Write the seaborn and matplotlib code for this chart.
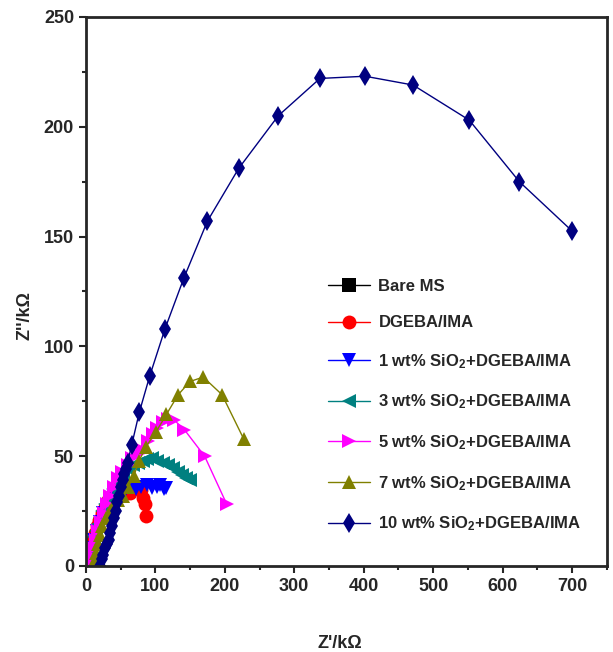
import numpy as np
import pandas as pd
import seaborn as sns
from matplotlib import pyplot as plt
from matplotlib.ticker import MultipleLocator

# Nyquist data, Z' and Z'' in kOhm
labels = ["Bare MS", "DGEBA/IMA",
          "1 wt% SiO$_2$+DGEBA/IMA", "3 wt% SiO$_2$+DGEBA/IMA",
          "5 wt% SiO$_2$+DGEBA/IMA", "7 wt% SiO$_2$+DGEBA/IMA",
          "10 wt% SiO$_2$+DGEBA/IMA"]

bare_x = [1, 1.5, 2, 2.5, 3, 3.5, 4, 4.5, 5]
bare_y = [0.2, 0.6, 1.0, 1.4, 1.8, 2.1, 2.4, 2.6, 2.8]

dgeba_x = [3, 4, 6, 8, 10, 13, 16, 19, 23, 27, 32, 38, 45, 52, 58, 63, 68, 73, 78, 80, 83, 85, 86]
dgeba_y = [1, 3, 6, 9, 12, 15, 18, 21, 24, 27, 30, 32, 33, 34, 34, 33, 35, 36, 36, 34.5, 31, 28, 22.6]

s1_x = [4, 6, 9, 12, 16, 20, 25, 30, 36, 42, 50, 58, 65, 72, 80, 88, 95, 102, 107, 112, 116]
s1_y = [1, 4, 8, 12, 16, 20, 24, 27, 30, 32, 34, 35, 36, 35, 36, 37, 35.5, 36, 37, 35, 35.5]

s3_x = [5, 6, 8, 10, 12, 15, 18, 21, 24, 28, 33, 39, 46, 53, 60, 68, 75, 82, 88, 95,
        103, 111, 118, 125, 132, 138, 144, 150]
s3_y = [1, 4, 7, 10, 13, 16, 19, 22, 25, 28, 31, 35, 38, 41, 44, 46, 47, 48, 48.5, 49,
        48, 47, 46, 44.5, 43, 41.5, 40, 39]

s5_x = [8, 10, 12, 15, 18, 22, 26, 30, 35, 40, 46, 52, 60, 67, 75, 82, 89, 96, 103,
        111, 119, 127, 142, 171, 203]
s5_y = [1, 4, 8, 12, 16, 20, 24, 28, 32, 36, 40, 43, 46, 49, 51, 53, 57, 60, 63,
        65.5, 67, 66.5, 62, 50, 28]

s7_x = [12, 14, 17, 20, 24, 29, 35, 41, 47, 53, 61, 69, 77, 86, 101, 116, 133, 150, 169, 196, 227]
s7_y = [2, 6, 10, 14, 18, 22, 25, 28, 30, 32, 36, 41, 48, 54, 61, 69, 78, 84, 86, 78, 58]

s10_x = [20, 23, 25, 28, 30, 33, 35, 38, 40, 43, 45, 48, 50, 53, 55, 58, 60, 66, 77, 92,
         114, 141, 175, 220, 277, 337, 402, 471, 552, 624, 700]
s10_y = [0, 3, 5, 8, 10, 12, 15, 18, 22, 25, 29, 32, 36, 39, 42, 44, 47, 55, 70, 86.5,
         108, 131, 157, 181, 205, 222, 223, 219, 203, 175, 152.5]

colors = ["#000000", "#FF0000", "#0000FF", "#008080", "#FF00FF", "#808000", "#000080"]
markers = ["s", "o", "v", "<", ">", "^", "d"]

xs = [bare_x, dgeba_x, s1_x, s3_x, s5_x, s7_x, s10_x]
ys = [bare_y, dgeba_y, s1_y, s3_y, s5_y, s7_y, s10_y]

df = pd.concat([pd.DataFrame({"zr": x, "zi": y, "sample": lab})
                for x, y, lab in zip(xs, ys, labels)], ignore_index=True)

sns.set_style("ticks")
plt.rcParams["font.family"] = ["Liberation Sans", "DejaVu Sans"]
plt.rcParams["font.weight"] = "bold"
plt.rcParams["mathtext.fontset"] = "custom"
plt.rcParams["mathtext.rm"] = "Liberation Sans:bold"
plt.rcParams["mathtext.bf"] = "Liberation Sans:bold"
plt.rcParams["mathtext.default"] = "bf"

fig = plt.figure(figsize=(6.13, 6.52), dpi=100)
ax = fig.add_axes([0.140, 0.132, 0.850, 0.842])

sns.lineplot(data=df, x="zr", y="zi", hue="sample", style="sample",
             hue_order=labels, style_order=labels,
             palette=dict(zip(labels, colors)), markers=dict(zip(labels, markers)),
             dashes=False, sort=False, estimator=None, linewidth=1,
             markersize=10, markeredgewidth=0, ax=ax)

ax.set_xlim(0, 750)
ax.set_ylim(0, 250)
ax.xaxis.set_major_locator(MultipleLocator(100))
ax.xaxis.set_minor_locator(MultipleLocator(50))
ax.yaxis.set_major_locator(MultipleLocator(50))
ax.yaxis.set_minor_locator(MultipleLocator(25))
ax.tick_params(which="major", direction="out", length=5, width=1.5, labelsize=13)
ax.tick_params(which="minor", direction="out", length=3, width=1.5)
for sp in ax.spines.values():
    sp.set_linewidth(2)
    sp.set_visible(True)

ax.set_xlabel("Z'/kΩ", fontsize=13, fontweight="bold")
ax.set_ylabel("Z''/kΩ", fontsize=13, fontweight="bold")
ax.xaxis.set_label_coords(0.488, -0.125)
ax.yaxis.set_label_coords(-0.10, 0.457)

handles, labs = ax.get_legend_handles_labels()
ax.legend(handles, labs, frameon=False, fontsize=12, loc="upper left",
          bbox_to_anchor=(0.525, 0.583), bbox_transform=fig.transFigure,
          labelspacing=1.31, handlelength=2.5, handletextpad=0.5, borderaxespad=0)

fig.savefig("out.png", dpi=100)
